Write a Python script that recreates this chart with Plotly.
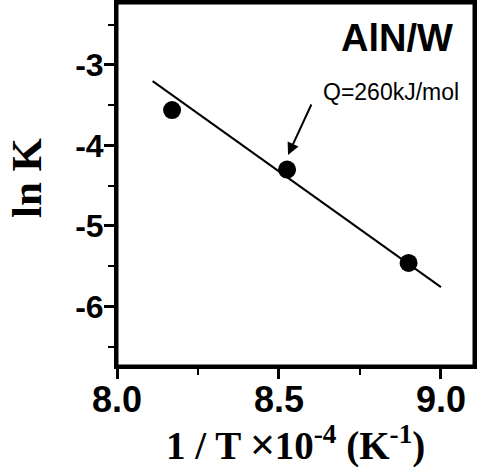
import plotly.graph_objects as go

# Data
inv_T = [8.17, 8.525, 8.90]          # 1/T x10^-4 (K^-1)
ln_K = [-3.56, -4.30, -5.46]
fit_x = [8.11, 9.00]
fit_y = [-3.20, -5.76]

x_tickvals = [8.0, 8.5, 9.0]
x_ticktext = ["8.0", "8.5", "9.0"]
y_tickvals = [-3, -4, -5, -6]
y_ticktext = ["-3", "-4", "-5", "-6"]

SANS = "Arial, Liberation Sans, sans-serif"
SERIF = "Times New Roman, Liberation Serif, serif"

fig = go.Figure()
fig.add_trace(go.Scatter(x=fit_x, y=fit_y, mode="lines",
                         line=dict(color="black", width=2), showlegend=False))
fig.add_trace(go.Scatter(x=inv_T, y=ln_K, mode="markers",
                         marker=dict(color="black", size=18), showlegend=False))

fig.add_annotation(x=0.947, y=0.904, xref="paper", yref="paper",
                   text="<b>AlN/W</b>", showarrow=False, xanchor="right", yanchor="middle",
                   font=dict(family=SANS, size=38, color="black"))
fig.add_annotation(x=0.768, y=0.754, xref="paper", yref="paper",
                   text="Q=260kJ/mol", showarrow=False, xanchor="center", yanchor="middle",
                   font=dict(family=SANS, size=23, color="black"))
fig.add_annotation(x=8.528, y=-4.118, xref="x", yref="y", ax=24, ay=-52,
                   text="", showarrow=True, arrowhead=2, arrowsize=1.2, arrowwidth=2,
                   arrowcolor="black")

# axis titles
fig.add_annotation(x=0.4986, y=-0.213, xref="paper", yref="paper",
                   text="<b>1 / T <span style='font-family:Arial, Liberation Sans; font-weight:normal; font-size:42px'>×</span>10<sup>-4</sup> (K<sup>-1</sup>)</b>",
                   showarrow=False, xanchor="center", yanchor="middle",
                   font=dict(family=SERIF, size=39, color="black"))
fig.add_annotation(x=-0.252, y=0.518, xref="paper", yref="paper",
                   text="<b>ln K</b>", textangle=-90,
                   showarrow=False, xanchor="center", yanchor="middle",
                   font=dict(family=SERIF, size=43, color="black"))

# frame around plot area
fig.add_shape(type="rect", xref="paper", yref="paper", x0=0, x1=1, y0=0, y1=1,
              line=dict(color="black", width=3), layer="above")

fig.update_layout(
    width=479, height=467,
    margin=dict(l=117, r=5, t=3, b=101, autoexpand=False),
    paper_bgcolor="white", plot_bgcolor="white",
    xaxis=dict(range=[8.0, 9.102], tickvals=x_tickvals, ticktext=x_ticktext,
               ticks="outside", ticklen=10, tickwidth=3, tickcolor="black",
               showline=True, linewidth=3, linecolor="black", mirror=True,
               showgrid=False, zeroline=False, automargin=False,
               ticklabelstandoff=-10,
               minor=dict(ticks="outside", dtick=0.25, tick0=8.0, ticklen=6, tickwidth=2,
                          tickcolor="black", showgrid=False),
               tickfont=dict(family=SANS, size=36, color="black", weight="bold")),
    yaxis=dict(range=[-6.74, -2.23], tickvals=y_tickvals, ticktext=y_ticktext,
               ticks="outside", ticklen=10, tickwidth=3, tickcolor="black",
               showline=True, linewidth=3, linecolor="black", mirror=True,
               showgrid=False, zeroline=False, automargin=False,
               ticklabelstandoff=-6,
               minor=dict(ticks="outside", dtick=0.5, tick0=-3, ticklen=6, tickwidth=2,
                          tickcolor="black", showgrid=False),
               tickfont=dict(family=SANS, size=32, color="black", weight="bold")),
)

fig.write_html("out.html", config={"displayModeBar": False},
               post_script="document.body.style.margin='0';document.body.style.overflow='hidden';")
